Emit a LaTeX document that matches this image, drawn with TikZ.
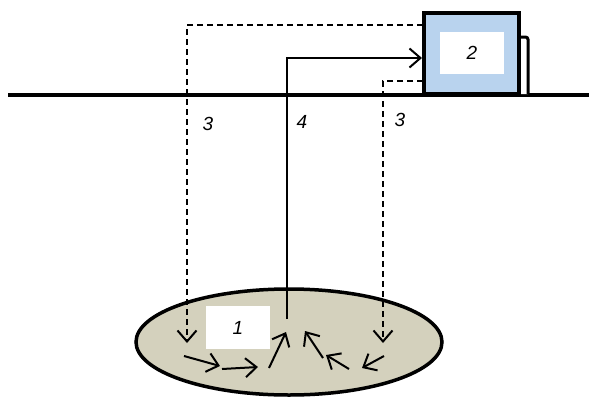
\documentclass[tikz,border=0pt]{standalone}
\usepackage{fontspec}
\setmainfont{Liberation Sans}
\usetikzlibrary{arrows.meta,shapes.geometric}
\definecolor{unitblue}{HTML}{B9D3EE}
\definecolor{soil}{HTML}{D4D1BD}

\begin{document}
\begin{tikzpicture}[x=1pt,y=-1pt,>={Straight Barb[length=11pt,width=19pt,line width=2pt]},
felirat/.style={font=\fontsize{19}{21}\selectfont\itshape, inner sep=1pt},
cimke/.style={rectangle, fill=white, inner sep=0pt},
szaggatott/.style={line width=2pt, dash pattern=on 6pt off 4pt},
]
\useasboundingbox (0,0) rectangle (589,399);

% talaj
\node[ellipse, draw, line width=3.5pt, fill=soil, minimum width=306pt, minimum height=106pt](zone) at (289,342){};
\node[cimke, minimum width=64pt, minimum height=43pt](l1) at (238,327.5){};
\node[felirat] at (l1){1};

\draw[line width=3.5pt] (8,95)--(589,95);

% egyseg
\draw[line width=3pt, fill=white, rounded corners=2.5pt] (518,94)--(518,37)--(528,37)--(528,94);
\node[rectangle, draw, line width=3.5pt, fill=unitblue, minimum width=95pt, minimum height=81pt](unit) at (471.5,53.5){};
\node[cimke, minimum width=64pt, minimum height=42pt](l2) at (472,53){};
\node[felirat] at (l2){2};

\coordinate (in-top) at (423,25);
\coordinate (in-mid) at (422,58);
\coordinate (in-low) at (423,81);
\coordinate (left-end) at (187,343);
\coordinate (mid-start) at (287,319);
\coordinate (right-end) at (383,343);

\begin{scope}[->]
\draw[szaggatott] (in-top) -| (left-end);
\draw[szaggatott] (in-low) -| (right-end);
\draw[line width=2pt] (mid-start) |- (in-mid);
\end{scope}

\node[felirat] at (208,124){3};
\node[felirat] at (302,122){4};
\node[felirat] at (400,120){3};

% aramlas
\begin{scope}[->, line width=2pt]
\foreach \xa/\ya/\xb/\yb in {184/356/220/366, 222/369/258/367, 269/368/286/332, 323/358/305/331, 349/369/326/355, 384/356/362/368}
  \draw (\xa,\ya)--(\xb,\yb);
\end{scope}
\end{tikzpicture}
\end{document}
